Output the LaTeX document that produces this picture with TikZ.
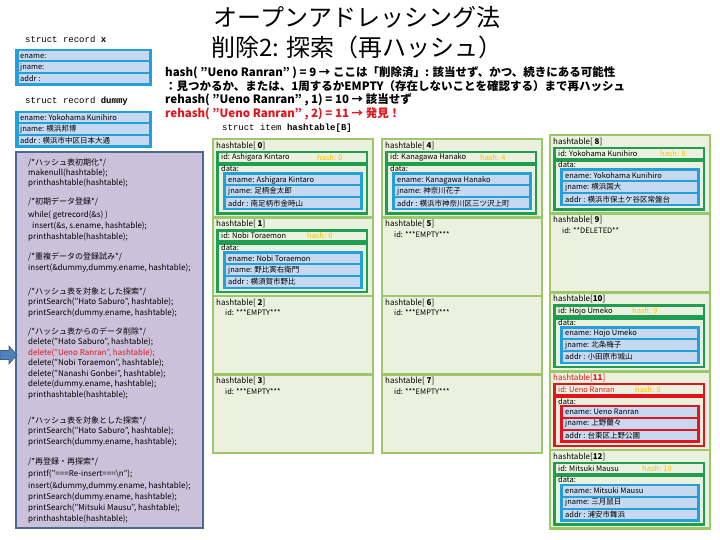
\documentclass[tikz,border=0pt]{standalone}
\usepackage{fontspec}
\setmainfont{Noto Sans CJK JP}
\setmonofont{Liberation Mono}
\definecolor{lgreen}{HTML}{9CC86A}
\definecolor{cellbg}{HTML}{EBF1DE}
\definecolor{dgreen}{HTML}{1E9E50}
\definecolor{bblue}{HTML}{22A0DA}
\definecolor{rowbg}{HTML}{C6D9F1}
\definecolor{hashy}{HTML}{FFC000}
\definecolor{panelbg}{HTML}{CCC1DA}
\definecolor{panelbd}{HTML}{4A6A90}
\definecolor{arrowfill}{HTML}{4F81BD}
\definecolor{arrowbd}{HTML}{385D8A}
\definecolor{hred}{HTML}{E3141B}
\tikzset{
  txt/.style={inner sep=0pt, anchor=west, font=\fontsize{7.5}{8}\selectfont},
  labtxt/.style={inner sep=0pt, anchor=west, font=\fontsize{8}{9}\selectfont},
  codetxt/.style={inner sep=0pt, anchor=west, font=\fontsize{8}{9}\selectfont},
  monotxt/.style={inner sep=0pt, anchor=west, font=\fontsize{9}{10}\ttfamily},
  headtxt/.style={inner sep=0pt, anchor=west, font=\fontsize{11.5}{12}\selectfont\bfseries},
  titletxt/.style={inner sep=0pt, font=\fontsize{24}{26}\selectfont},
  cellbox/.style={draw=lgreen, fill=cellbg, line width=2.5pt},
  frm/.style={draw=dgreen, line width=2.2pt},
  rowfr/.style={fill=bblue},
  idc/.style={text=black},
  labc/.style={text=black},
  panel/.style={draw=panelbd, fill=panelbg, line width=1.8pt},
}
\newcommand{\htfull}[8]{%
  \draw[cellbox] (#1,#2) rectangle ++(160,78.5);
  \node[labtxt, labc] (lab#3) at (#1+3,#2+6.5) {hashtable[\ifnum#3<10\ \fi\textbf{#3}]};
  \draw[frm, fill=cellbg] (#1+4.5,#2+13) rectangle (#1+154,#2+24);
  \node[txt, idc] (id#3) at (#1+8,#2+18.5) {id: #4};
  \node[txt, text=hashy] (h#3) at (#1+#5,#2+18.5) {hash: #6};
  \draw[frm] (#1+4.5,#2+26) rectangle (#1+154,#2+74.5);
  \node[txt] (d#3) at (#1+8,#2+30) {data:};
  \fill[rowfr] (#1+10,#2+33.5) rectangle (#1+150,#2+71.5);
  \fill[rowbg] (#1+13,#2+36) rectangle (#1+147,#2+45.5);
  \fill[rowbg] (#1+13,#2+47.5) rectangle (#1+147,#2+57.5);
  \fill[rowbg] (#1+13,#2+59.5) rectangle (#1+147,#2+69);
  \node[txt] (e#3) at (#1+15,#2+41) {ename: #4};
  \node[txt] (j#3) at (#1+15,#2+52.5) {jname: #7};
  \node[txt] (a#3) at (#1+15,#2+64.3) {addr : #8};
}
\newcommand{\htempty}[4]{%
  \draw[cellbox] (#1,#2) rectangle ++(160,78.5);
  \node[labtxt] (lab#3) at (#1+3,#2+6.5) {hashtable[\ifnum#3<10\ \fi\textbf{#3}]};
  \node[txt] (id#3) at (#1+12,#2+17) {id: #4};
}
\newcommand{\codeln}[3]{\node[codetxt] (#1) at (28,#2) {#3};}
\begin{document}
\begin{tikzpicture}[x=1pt,y=-1pt]
\useasboundingbox (0,0) rectangle (720,540);
\fill[white] (0,0) rectangle (720,540);

% title
\node[titletxt] (title1) at (357,17) {オープンアドレッシング法};
\node[titletxt] (title2) at (357,47) {削除2: 探索（再ハッシュ）};

% header explanation
\node[headtxt] (hd1) at (165,73) {hash( "Ueno Ranran" ) = 9 → ここは「削除済」: 該当せず、かつ、続きにある可能性};
\node[headtxt] (hd2) at (165,86.5) {：見つかるか、または、1周するかEMPTY（存在しないことを確認する）まで再ハッシュ};
\node[headtxt] (hd3) at (165,100) {rehash( "Ueno Ranran" , 1) = 10 → 該当せず};
\node[headtxt, text=hred] (hd4) at (165,113.5) {rehash( "Ueno Ranran" , 2) = 11 → 発見！};
\node[monotxt] (sitem) at (222,128) {struct item \textbf{hashtable[B]}};

% struct record x
\node[monotxt] (srx) at (25,39) {struct record \textbf{x}};
\fill[rowfr] (15,49) rectangle (152,86);
\fill[rowbg] (18.5,51.5) rectangle (148.5,60.5);
\fill[rowbg] (18.5,62.5) rectangle (148.5,72);
\fill[rowbg] (18.5,74) rectangle (148.5,83.5);
\node[txt] (xe) at (20,56) {ename:};
\node[txt] (xj) at (20,67.3) {jname:};
\node[txt] (xa) at (20,78.8) {addr :};

% struct record dummy
\node[monotxt] (srd) at (25,101) {struct record \textbf{dummy}};
\fill[rowfr] (15,111) rectangle (152,148);
\fill[rowbg] (18.5,113.5) rectangle (148.5,122.5);
\fill[rowbg] (18.5,124.5) rectangle (148.5,134);
\fill[rowbg] (18.5,136) rectangle (148.5,145.5);
\node[txt] (de) at (20,118) {ename: Yokohama Kunihiro};
\node[txt] (dj) at (20,129.3) {jname: 横浜邦博};
\node[txt] (da) at (20,140.8) {addr : 横浜市中区日本大通};

% code panel
\draw[panel] (16,152) rectangle (203,528);
\codeln{c1}{162.5}{/*ハッシュ表初期化*/}
\codeln{c2}{173}{makenull(hashtable);}
\codeln{c3}{183.5}{printhashtable(hashtable);}
\codeln{c4}{202}{/*初期データ登録*/}
\codeln{c5}{215}{while( getrecord(\&s) )}
\node[codetxt] (c6) at (32,226.5) {insert(\&s, s.ename, hashtable);};
\codeln{c7}{237}{printhashtable(hashtable);}
\codeln{c8}{257}{/*重複データの登録試み*/}
\codeln{c9}{268.5}{insert(\&dummy,dummy.ename, hashtable);}
\codeln{c10}{291.5}{/*ハッシュ表を対象とした探索*/}
\codeln{c11}{302.5}{printSearch("Hato Saburo", hashtable);}
\codeln{c12}{313}{printSearch(dummy.ename, hashtable);}
\codeln{c13}{332}{/*ハッシュ表からのデータ削除*/}
\codeln{c14}{342.5}{delete("Hato Saburo", hashtable);}
\node[codetxt, text=hred] (c15) at (28,353) {delete("Ueno Ranran", hashtable);};
\codeln{c16}{363.5}{delete("Nobi Toraemon", hashtable);}
\codeln{c17}{374}{delete("Nanashi Gonbei", hashtable);}
\codeln{c18}{384.5}{delete(dummy.ename, hashtable);}
\codeln{c19}{395}{printhashtable(hashtable);}
\codeln{c20}{420.5}{/*ハッシュ表を対象とした探索*/}
\codeln{c21}{431.5}{printSearch("Hato Saburo", hashtable);}
\codeln{c22}{442.5}{printSearch(dummy.ename, hashtable);}
\codeln{c23}{462}{/*再登録・再探索*/}
\codeln{c24}{474.5}{printf("===Re-insert===\textbackslash n");}
\codeln{c25}{486}{insert(\&dummy,dummy.ename, hashtable);}
\codeln{c26}{497}{printSearch(dummy.ename, hashtable);}
\codeln{c27}{508}{printSearch("Mitsuki Mausu", hashtable);}
\codeln{c28}{519}{printhashtable(hashtable);}

% pointer arrow
\filldraw[fill=arrowfill, draw=arrowbd, line width=0.6pt]
  (0,350.5) -- (9,350.5) -- (9,346) -- (17,355) -- (9,364) -- (9,359.5) -- (0,359.5) -- cycle;

% column 1
\htfull{213}{139}{0}{Ashigara Kintaro}{104}{0}{足柄金太郎}{南足柄市金時山}
\htfull{213}{217.5}{1}{Nobi Toraemon}{94}{0}{野比寅右衛門}{横須賀市野比}
\htempty{213}{296}{2}{***EMPTY***}
\htempty{213}{374.5}{3}{***EMPTY***}

% column 2
\htfull{382}{139}{4}{Kanagawa Hanako}{98}{4}{神奈川花子}{横浜市神奈川区三ツ沢上町}
\htempty{382}{217.5}{5}{***EMPTY***}
\htempty{382}{296}{6}{***EMPTY***}
\htempty{382}{374.5}{7}{***EMPTY***}

% column 3
\htfull{550}{135}{8}{Yokohama Kunihiro}{110}{8}{横浜国大}{横浜市保土ケ谷区常盤台}
\htempty{550}{213.75}{9}{**DELETED**}
\htfull{550}{292.5}{10}{Hojo Umeko}{82}{9}{北条梅子}{小田原市城山}
\begin{scope}[frm/.style={draw=hred, line width=2.2pt}, rowfr/.style={fill=hred},
  idc/.style={text=hred}, labc/.style={text=hred}]
\htfull{550}{371.25}{11}{Ueno Ranran}{85}{9}{上野蘭々}{台東区上野公園}
\end{scope}
\htfull{550}{450}{12}{Mitsuki Mausu}{92}{10}{三月鼠日}{浦安市舞浜}
\end{tikzpicture}
\end{document}
